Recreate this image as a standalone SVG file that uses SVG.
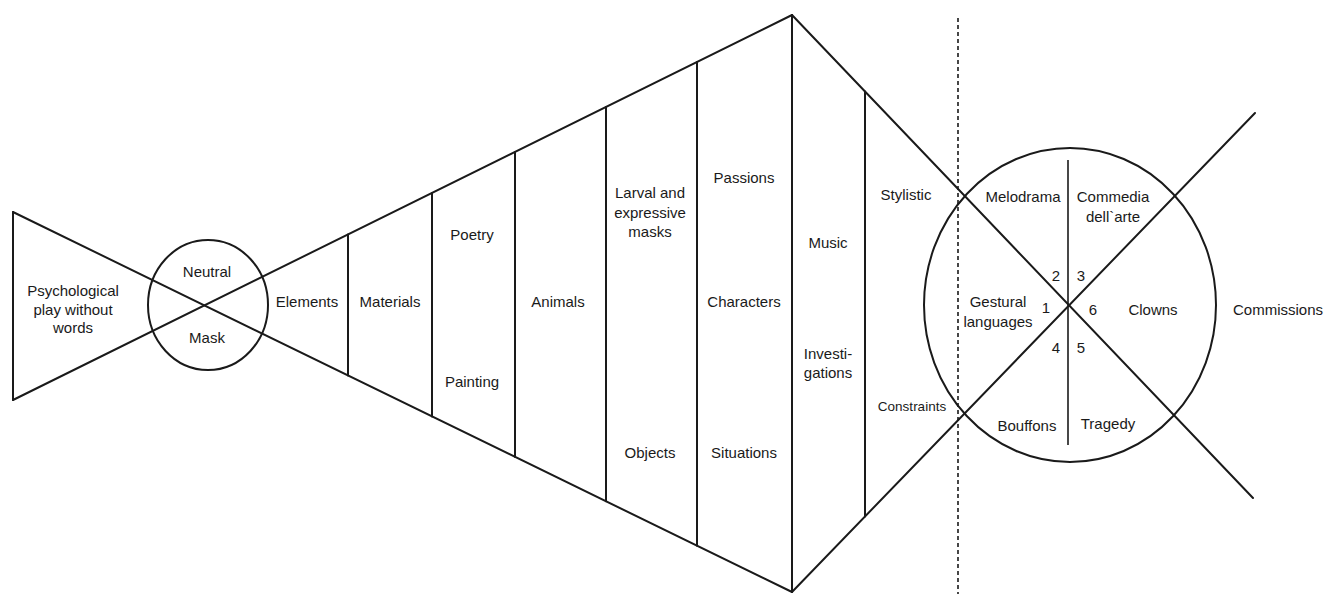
<svg xmlns="http://www.w3.org/2000/svg" width="1325" height="594" viewBox="0 0 1325 594">
<style>
.ln{stroke:#1a1a1a;stroke-width:2;fill:none;stroke-linecap:round}
.thin{stroke:#1a1a1a;stroke-width:1.6;fill:none}
.dash{stroke:#1a1a1a;stroke-width:1.6;fill:none;stroke-dasharray:4 3}
text{font-family:"Liberation Sans",Arial,sans-serif;font-size:15px;fill:#1a1a1a;text-anchor:middle}
.sm{font-size:13.5px}
</style>
<rect width="1325" height="594" fill="#ffffff"/>
<g id="connectors">
<line class="ln" x1="13" y1="212" x2="13" y2="400"/>
<line class="ln" x1="13" y1="212" x2="792" y2="592"/>
<line class="ln" x1="13" y1="400" x2="792" y2="15"/>
<line class="ln" x1="348" y1="234.4" x2="348" y2="375.4"/>
<line class="ln" x1="432" y1="192.9" x2="432" y2="416.4"/>
<line class="ln" x1="515" y1="151.9" x2="515" y2="456.9"/>
<line class="ln" x1="606" y1="107" x2="606" y2="501.3"/>
<line class="ln" x1="697" y1="62" x2="697" y2="545.7"/>
<line class="ln" x1="792" y1="15" x2="792" y2="592"/>
<line class="ln" x1="792" y1="15" x2="1253" y2="498"/>
<line class="ln" x1="792" y1="592" x2="1255" y2="113"/>
<line class="ln" x1="865" y1="91.5" x2="865" y2="516.5"/>
<line class="dash" x1="958" y1="18" x2="958" y2="594"/>
<line class="thin" x1="1068" y1="160" x2="1068" y2="445"/>
</g>
<g id="left-triangle"><text x="73" y="296">Psychological</text><text x="73" y="315">play without</text><text x="73" y="333">words</text></g>
<g id="neutral-mask"><ellipse class="ln" cx="208" cy="305" rx="60" ry="65"/><text x="207" y="277">Neutral</text><text x="207" y="343">Mask</text></g>
<g id="elements"><text x="307" y="307">Elements</text></g>
<g id="materials"><text x="390" y="307">Materials</text></g>
<g id="poetry-painting"><text x="472" y="240">Poetry</text><text x="472" y="387">Painting</text></g>
<g id="animals"><text x="558" y="307">Animals</text></g>
<g id="masks-objects"><text x="650" y="198">Larval and</text><text x="650" y="218">expressive</text><text x="650" y="237">masks</text><text x="650" y="458">Objects</text></g>
<g id="passions"><text x="744" y="183">Passions</text><text x="744" y="307">Characters</text><text x="744" y="458">Situations</text></g>
<g id="music"><text x="828" y="248">Music</text><text x="828" y="359">Investi-</text><text x="828" y="378">gations</text></g>
<g id="stylistic"><text x="906" y="200">Stylistic</text><text class="sm" x="912" y="411">Constraints</text></g>
<g id="genres">
<ellipse class="ln" cx="1070" cy="305" rx="146" ry="157"/>
<text x="1023" y="202">Melodrama</text>
<text x="1113" y="202">Commedia</text><text x="1113" y="222">dell`arte</text>
<text x="998" y="307">Gestural</text><text x="998" y="327">languages</text>
<text x="1153" y="315">Clowns</text>
<text x="1027" y="431">Bouffons</text>
<text x="1108" y="429">Tragedy</text>
<text x="1046" y="313">1</text><text x="1056" y="281">2</text><text x="1081" y="281">3</text>
<text x="1056" y="353">4</text><text x="1081" y="353">5</text><text x="1093" y="315">6</text>
</g>
<g id="commissions"><text x="1278" y="315">Commissions</text></g>
</svg>
